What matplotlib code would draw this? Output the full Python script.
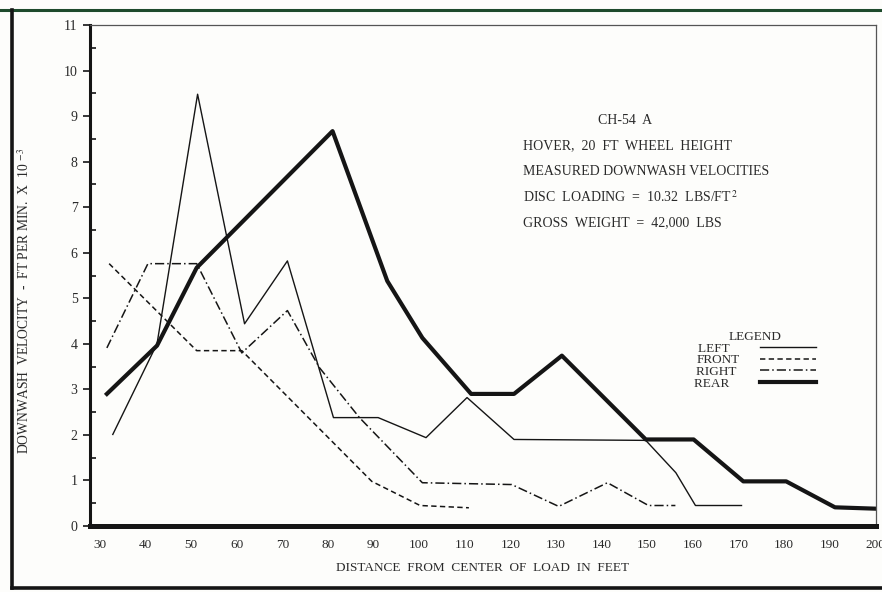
import matplotlib
matplotlib.use("Agg")
import matplotlib.pyplot as plt
from matplotlib.lines import Line2D

plt.rcParams["font.family"] = ["Liberation Serif", "DejaVu Serif"]
plt.rcParams["mathtext.fontset"] = "stix"

# CH-54A downwash velocities (ft/min x 10^-3) vs distance from load (ft)
left_x = [32.8, 42.5, 51.4, 61.7, 71.1, 81.2, 91.0, 101.5, 110.5, 120.8, 149.7, 156.3, 160.6, 170.7]
left_y = [2.01, 4.00, 9.48, 4.44, 5.82, 2.38, 2.38, 1.94, 2.82, 1.90, 1.88, 1.17, 0.45, 0.45]

front_x = [32.0, 51.2, 61.1, 89.6, 100.2, 110.9]
front_y = [5.76, 3.85, 3.85, 0.98, 0.45, 0.40]

right_x = [31.5, 40.5, 51.2, 61.1, 71.1, 78.1, 86.9, 100.7, 120.3, 130.6, 141.3, 150.3, 156.2]
right_y = [3.91, 5.76, 5.76, 3.80, 4.73, 3.48, 2.38, 0.95, 0.91, 0.43, 0.95, 0.45, 0.45]

rear_x = [31.5, 42.5, 51.2, 81.0, 93.0, 100.7, 111.4, 120.8, 131.3, 149.7, 160.2, 171.1, 180.5, 191.2, 200.2]
rear_y = [2.90, 3.96, 5.67, 8.67, 5.38, 4.13, 2.90, 2.90, 3.74, 1.90, 1.90, 0.98, 0.98, 0.41, 0.38]

x_ticks = list(range(30, 201, 10))
y_ticks = list(range(0, 12))

info_lines = [
    "HOVER,  20  FT  WHEEL  HEIGHT",
    "MEASURED DOWNWASH VELOCITIES",
    "DISC  LOADING  =  10.32  LBS/FT$^{\\,2}$",
    "GROSS  WEIGHT  =  42,000  LBS",
]

ink = "#151515"
txt = "#2a2a2a"

fig = plt.figure(figsize=(8.82, 5.92), dpi=100, facecolor="#fdfdfb")

# scanned page frame
fig.add_artist(Line2D([0, 1], [0.983, 0.983], color="#1e4a2c", lw=2.2))
fig.add_artist(Line2D([0.0135, 0.0135], [0.007, 0.983], color=ink, lw=2.6))
fig.add_artist(Line2D([0.0135, 1], [0.007, 0.007], color=ink, lw=2.6))

ax = fig.add_axes([90 / 882, 1 - 526 / 592, 786 / 882, 501 / 592])
ax.set_facecolor("#fdfdfb")

# trailing spaces keep the legend labels flush left
ax.plot(left_x, left_y, color=ink, lw=1.0, label="LEFT   ")
ax.plot(front_x, front_y, color=ink, lw=1.1, linestyle=(0, (3.5, 2.2)), label="FRONT")
ax.plot(right_x, right_y, color=ink, lw=1.1, linestyle=(0, (6, 2, 1, 2)), label="RIGHT ")
ax.plot(rear_x, rear_y, color=ink, lw=3.0, label="REAR   ")

ax.set_xlim(27.8, 200.2)
ax.set_ylim(0, 11)
ax.set_xticks(x_ticks)
ax.set_yticks(y_ticks)
ax.set_yticks([v + 0.5 for v in y_ticks[:-1]], minor=True)
ax.tick_params(axis="x", length=0, pad=9, labelsize=9.5, labelcolor=txt)
ax.tick_params(axis="y", which="major", direction="out", length=5, width=1.2,
               pad=4, labelsize=10, labelcolor=txt, color=ink)
ax.tick_params(axis="y", which="minor", direction="in", length=4.5, width=1.2, color=ink)

ax.spines["left"].set_linewidth(2.2)
ax.spines["bottom"].set_linewidth(3.6)
ax.spines["top"].set_linewidth(0.9)
ax.spines["right"].set_linewidth(0.9)
for s in ["left", "bottom"]:
    ax.spines[s].set_color(ink)
for s in ["top", "right"]:
    ax.spines[s].set_color("#555555")

ax.set_ylabel("DOWNWASH  VELOCITY  -  FT PER MIN.  X  10 $^{-3}$", fontsize=9.8, color=txt)
ax.yaxis.set_label_coords(-0.074, 0.45)
ax.set_xlabel("DISTANCE  FROM  CENTER  OF  LOAD  IN  FEET", fontsize=9.5, color=txt)
ax.xaxis.set_label_coords(0.5, -0.072)

ax.text(0.646, 0.810, "CH-54  A", transform=ax.transAxes, fontsize=10, color=txt, va="center")
for i, line in enumerate(info_lines):
    ax.text(0.551, 0.760 - i * 0.0515, line, transform=ax.transAxes,
            fontsize=10, color=txt, va="center")

leg = ax.legend(title="LEGEND", loc="upper left", bbox_to_anchor=(0.76, 0.402),
                frameon=False, markerfirst=False, fontsize=9.5, title_fontsize=9.5,
                labelspacing=-0.05, handlelength=4.2, handletextpad=1.6, borderpad=0)
for t in leg.get_texts():
    t.set_color(txt)
leg.get_title().set_color(txt)

plt.savefig("out.png", dpi=100, facecolor=fig.get_facecolor())
